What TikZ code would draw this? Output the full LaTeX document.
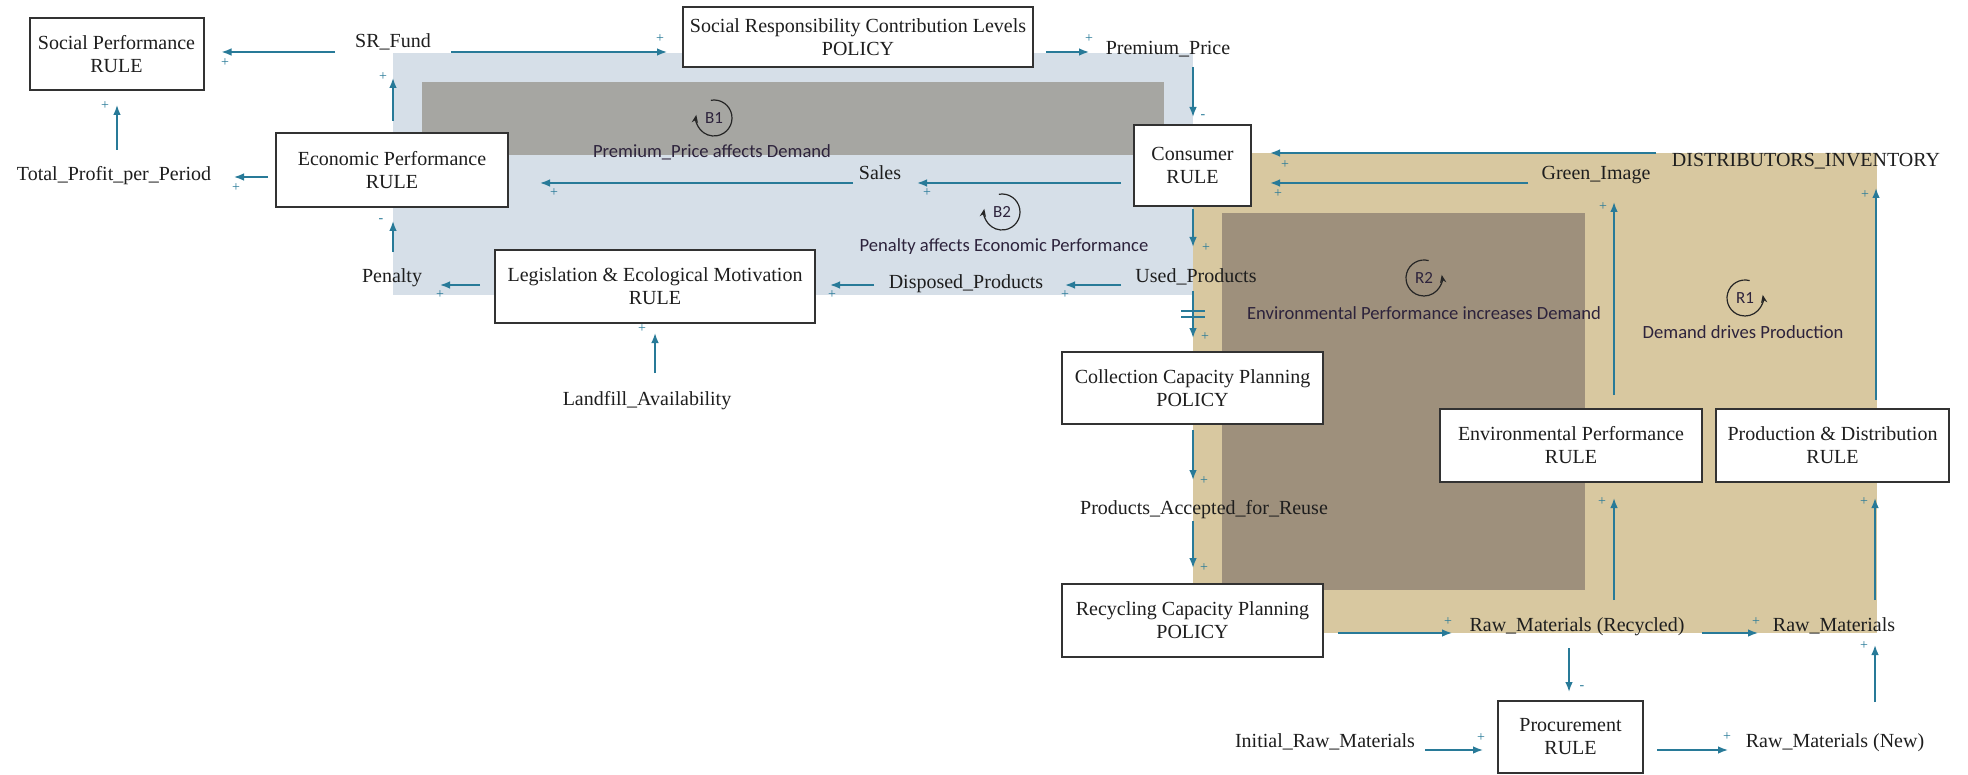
\documentclass[tikz,border=0pt]{standalone}
\usepackage{fontspec}
\setmainfont{Liberation Serif}
\newfontfamily\loopfont{Carlito}
\usetikzlibrary{arrows.meta,calc}
\definecolor{teal1}{RGB}{40,122,152}
\definecolor{bluebg}{RGB}{214,223,232}
\definecolor{graybg}{RGB}{166,166,162}
\definecolor{tanbg}{RGB}{216,200,160}
\definecolor{brownbg}{RGB}{158,144,124}
\definecolor{boxline}{RGB}{50,50,50}
\definecolor{textc}{RGB}{30,30,30}
\definecolor{looptext}{RGB}{45,35,60}
\begin{document}
\begin{tikzpicture}[x=0.5pt,y=-0.5pt,
  box/.style={draw=boxline, line width=1pt, fill=white, align=center, font=\fontsize{10}{11.5}\selectfont, text=textc, inner sep=1pt, outer sep=0pt},
  var/.style={font=\fontsize{10}{11}\selectfont, text=textc, inner sep=1pt, text height=7pt, text depth=2pt},
  arr/.style={draw=teal1, line width=0.8pt, -{Latex[length=5pt,width=3.8pt]}},
  pol/.style={text=teal1, font=\fontsize{7}{7}\selectfont, inner sep=0pt},
  looplbl/.style={font=\loopfont\fontsize{9.3}{10}\selectfont, text=looptext, inner sep=1pt},
  loopsym/.style={font=\loopfont\fontsize{8.5}{9}\selectfont, text=looptext, inner sep=0pt},
  looparc/.style={draw=black!85, line width=0.6pt, -{Stealth[length=4pt,width=3.2pt]}}
]
\useasboundingbox (0,0) rectangle (1968,775);
\fill[white] (0,0) rectangle (1968,775);

% background regions
\fill[bluebg] (393,53) rectangle (1193,295);
\fill[graybg] (422,82) rectangle (1164,155);
\fill[tanbg] (1193,153) rectangle (1877,633);
\fill[brownbg] (1222,213) rectangle (1585,590);

% boxes
\node[box, minimum width=87pt, minimum height=36pt] (SocPerf) at (116.5,54) {Social Performance\\RULE};
\node[box, minimum width=175pt, minimum height=30pt] (SRC) at (858,37) {Social Responsibility Contribution Levels\\POLICY};
\node[box, minimum width=58.5pt, minimum height=40.5pt] (Consumer) at (1192.5,165.5) {Consumer\\RULE};
\node[box, minimum width=116pt, minimum height=37pt] (Econ) at (392,170) {Economic Performance\\RULE};
\node[box, minimum width=160pt, minimum height=36.5pt] (Leg) at (655,286.5) {Legislation \& Ecological Motivation\\RULE};
\node[box, minimum width=130.5pt, minimum height=36pt] (Collection) at (1192.5,388) {Collection Capacity Planning\\POLICY};
\node[box, minimum width=130.5pt, minimum height=36.5pt] (Recycling) at (1192.5,620.5) {Recycling Capacity Planning\\POLICY};
\node[box, minimum width=131pt, minimum height=36.5pt] (EnvPerf) at (1571,445.5) {Environmental Performance\\RULE};
\node[box, minimum width=116.5pt, minimum height=36.5pt] (ProdDist) at (1832.5,445.5) {Production \& Distribution\\RULE};
\node[box, minimum width=72.5pt, minimum height=36pt] (Proc) at (1570.5,737) {Procurement\\RULE};

% variables
\node[var] (SRFund) at (393,43) {SR\_Fund};
\node[var] (Premium) at (1168,50) {Premium\_Price};
\node[var] (TP) at (114,176) {Total\_Profit\_per\_Period};
\node[var] (Sales) at (880,175) {Sales};
\node[var] (Penalty) at (392,277) {Penalty};
\node[var] (Disposed) at (966,283) {Disposed\_Products};
\node[var] (Used) at (1196,277) {Used\_Products};
\node[var] (Landfill) at (647,400) {Landfill\_Availability};
\node[var] (DistInv) at (1806,162) {DISTRIBUTORS\_INVENTORY};
\node[var] (Green) at (1596,175) {Green\_Image};
\node[var] (ProdAcc) at (1204,509) {Products\_Accepted\_for\_Reuse};
\node[var] (RawRec) at (1577,626) {Raw\_Materials (Recycled)};
\node[var] (RawMat) at (1834,626) {Raw\_Materials};
\node[var] (Initial) at (1325,742) {Initial\_Raw\_Materials};
\node[var] (RawNew) at (1835,742) {Raw\_Materials (New)};

% connectors
\draw[arr] ($(SRFund)+(-58,9)$) -- ($(SocPerf.east)+(18,-2)$);
\draw[arr] ($(SRFund)+(58,9)$) -- ($(SRC.west)+(-16,15)$);
\draw[arr] ($(SRC.east)+(13,15)$) -- ($(Premium)+(-79,2)$);
\draw[arr] ($(Premium)+(25,17)$) -- ($(Consumer.north)+(0.5,-8)$);
\draw[arr] ($(Econ.north)+(1,-12)$) -- ($(SRFund)+(0,35)$);
\draw[arr] ($(Econ.west)+(-8,7)$) -- ($(TP)+(120,1)$);
\draw[arr] ($(TP)+(3,-26)$) -- ($(SocPerf.south)+(0.5,15)$);
\draw[arr] ($(Sales)+(-27,8)$) -- ($(Econ.east)+(32,13)$);
\draw[arr] ($(Consumer.west)+(-13,17.5)$) -- ($(Sales)+(37,8)$);
\draw[arr] ($(DistInv)+(-150,-9)$) -- ($(Consumer.east)+(19,-12.5)$);
\draw[arr] ($(Green)+(-68,8)$) -- ($(Consumer.east)+(19,17.5)$);
\draw[arr] ($(EnvPerf.north)+(43,-14)$) -- ($(Green)+(18,27)$);
\draw[arr] ($(ProdDist.north)+(43.5,-9)$) -- ($(DistInv)+(70,26)$);
\draw[arr] ($(Consumer.south)+(0.5,3)$) -- ($(Used)+(-3,-30)$);
\draw[arr] ($(Used)+(-75,8)$) -- ($(Disposed)+(99,2)$);
\draw[arr] ($(Disposed)+(-92,2)$) -- ($(Leg.east)+(15,-1.5)$);
\draw[arr] ($(Leg.west)+(-15,-1.5)$) -- ($(Penalty)+(48,8)$);
\draw[arr] ($(Penalty)+(1,-25)$) -- ($(Econ.south)+(1,14)$);
\draw[arr] ($(Landfill)+(8,-27)$) -- ($(Leg.south)+(0,10)$);
\draw[arr] ($(Used)+(-3,14)$) -- ($(Collection.north)+(0.5,-14)$);
\draw[teal1, line width=1.1pt] ($(Used)+(-15,34)$) -- ++(24,0) ($(Used)+(-15,40)$) -- ++(24,0);
\draw[arr] ($(Collection.south)+(0.5,6)$) -- ($(ProdAcc)+(-11,-29)$);
\draw[arr] ($(ProdAcc)+(-11,12)$) -- ($(Recycling.north)+(0.5,-16)$);
\draw[arr] ($(Recycling.east)+(15,12.5)$) -- ($(RawRec)+(-125,7)$);
\draw[arr] ($(RawRec)+(37,-26)$) -- ($(EnvPerf.south)+(43,16)$);
\draw[arr] ($(RawRec)+(125,7)$) -- ($(RawMat)+(-76,7)$);
\draw[arr] ($(RawMat)+(41,-26)$) -- ($(ProdDist.south)+(42.5,16)$);
\draw[arr] ($(RawRec)+(-8,22)$) -- ($(Proc.north)+(-1.5,-9)$);
\draw[arr] ($(Initial)+(100,8)$) -- ($(Proc.west)+(-15,13)$);
\draw[arr] ($(Proc.east)+(14,13)$) -- ($(RawNew)+(-107,8)$);
\draw[arr] ($(RawNew)+(40,-40)$) -- ($(RawMat)+(41,19)$);

% polarities
\node[pol] (p1) at (225,63) {+};
\node[pol] (p2) at (660,39) {+};
\node[pol] (p3) at (1089,39) {+};
\node[pol] (p4) at (1203,117) {-};
\node[pol] (p5) at (383,77) {+};
\node[pol] (p6) at (236,188) {+};
\node[pol] (p7) at (105,106) {+};
\node[pol] (p8) at (554,193) {+};
\node[pol] (p9) at (927,193) {+};
\node[pol] (p10) at (1285,165) {+};
\node[pol] (p11) at (1278,194) {+};
\node[pol] (p12) at (1603,207) {+};
\node[pol] (p13) at (1865,195) {+};
\node[pol] (p14) at (1206,248) {+};
\node[pol] (p15) at (1065,295) {+};
\node[pol] (p16) at (832,295) {+};
\node[pol] (p17) at (440,295) {+};
\node[pol] (p18) at (381,221) {-};
\node[pol] (p19) at (642,329) {+};
\node[pol] (p20) at (1205,337) {+};
\node[pol] (p21) at (1204,481) {+};
\node[pol] (p22) at (1204,568) {+};
\node[pol] (p23) at (1448,622) {+};
\node[pol] (p24) at (1602,502) {+};
\node[pol] (p25) at (1756,622) {+};
\node[pol] (p26) at (1864,502) {+};
\node[pol] (p27) at (1582,688) {-};
\node[pol] (p28) at (1481,738) {+};
\node[pol] (p29) at (1727,737) {+};
\node[pol] (p30) at (1864,646) {+};

% loops
\node[loopsym] (B1) at (714,118) {B1};
\draw[looparc] ([shift={(100:9pt)}]B1.center) arc[start angle=100, end angle=-190, radius=9pt];
\node[looplbl] (lB1) at (712,152) {Premium\_Price affects Demand};
\node[loopsym] (B2) at (1002,212) {B2};
\draw[looparc] ([shift={(100:9pt)}]B2.center) arc[start angle=100, end angle=-190, radius=9pt];
\node[looplbl] (lB2) at (1004,247) {Penalty affects Economic Performance};
\node[loopsym] (R2) at (1424,278) {R2};
\draw[looparc] ([shift={(75:9pt)}]R2.center) arc[start angle=75, end angle=370, radius=9pt];
\node[looplbl] (lR2) at (1424,313) {Environmental Performance increases Demand};
\node[loopsym] (R1) at (1745,298) {R1};
\draw[looparc] ([shift={(75:9pt)}]R1.center) arc[start angle=75, end angle=370, radius=9pt];
\node[looplbl] (lR1) at (1743,332) {Demand drives Production};
\end{tikzpicture}
\end{document}
